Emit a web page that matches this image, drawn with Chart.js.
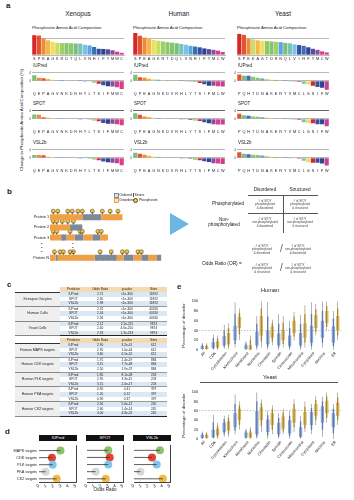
<!DOCTYPE html>
<html>
<head>
<meta charset="utf-8">
<title>Phosphosites and disorder</title>
<script src="https://cdn.jsdelivr.net/npm/chart.js@4.4.1/dist/chart.umd.min.js"></script>
<style>
  body { margin: 0; background: #fff; font-family: "Liberation Sans", Arial, sans-serif; color: #222; }
  #page { position: relative; width: 354px; height: 500px; overflow: hidden; }
  #page canvas { position: absolute; }
  .t { position: absolute; white-space: nowrap; line-height: 1; }
  .panel { font-weight: bold; font-size: 8px; }
  .c { transform: translateX(-50%); text-align: center; }
  .hline { position: absolute; height: 0; border-top: 0.6px solid #555; }
  .vline { position: absolute; width: 0; border-left: 0.6px solid #555; }
  .stats { position: absolute; left: 15px; width: 152px; border-collapse: collapse; table-layout: fixed; font-size: 3.2px; }
  .stats td { height: 4.6px; padding: 0; line-height: 4.6px; text-align: center; white-space: nowrap; overflow: hidden; }
  .stats tr.b td { background: #dce7f4; }
  .stats tr.last td { border-bottom: 0.6px solid #999; }
  .stats tr:last-child td { border-bottom: 0.9px solid #222; }
  .stats tr.hd td { background: #f3dab2; }
  .stats tr td.grp { width: 45px; background: #efefef; font-size: 3.6px; border-bottom: 0.6px solid #888; }
  .stats tr.hd td.grp { background: #fff; border-bottom: 0.6px solid #333; }
  .khead { position: absolute; background: #111; color: #fff; font-size: 4px; text-align: center; line-height: 6px; height: 6px; }
</style>
</head>
<body>
<div id="page"></div>
<script>
// ---------- panel a: amino acid composition ----------
const xenCompLabels = ['S','P','E','A','G','K','R','D','T','Q','L','V','N','H','I','F','Y','M','W','C'];
const xenComposition = [10.8, 10.6, 9.0, 8.0, 7.2, 6.6, 6.5, 6.5, 6.4, 6.3, 6.2, 5.6, 5.2, 4.4, 3.4, 3.3, 3.1, 2.6, 1.8, 1.2];
const humCompLabels = ['S','P','E','A','G','K','R','T','D','Q','L','V','N','H','I','F','Y','M','C','W'];
const humComposition = [12.0, 10.5, 9.5, 8.8, 8.2, 7.8, 7.4, 7.0, 6.7, 6.4, 6.0, 5.6, 5.0, 4.6, 4.2, 3.6, 3.2, 2.8, 2.4, 1.6];
const yeastCompLabels = ['S','P','E','K','A','G','T','D','R','N','Q','L','V','I','H','F','Y','M','C','W'];
const yeastComposition = [11.5, 11.0, 8.8, 8.5, 8.0, 7.8, 7.6, 7.4, 7.2, 7.0, 6.6, 6.4, 5.8, 5.4, 5.0, 4.2, 3.4, 2.8, 2.0, 1.4];

const xenChangeLabels = ['Q','E','P','A','G','V','N','K','D','R','H','Y','L','T','S','I','F','M','W','C'];
const xenIupred = [2.8, 1.6, 1.3, 0.9, 0.6, 0.5, 0.4, 0.35, 0.3, 0.25, 0.1, -0.1, -0.3, -0.9, -1.4, -2.2, -2.6, -2.8, -3.2, -4.0];
const xenSpot = [2.2, 2.0, 0.8, 0.6, 0.5, 0.4, 0.3, 0.25, 0.2, 0.1, -0.1, -0.2, -0.4, -0.8, -1.2, -2.0, -2.4, -2.4, -2.6, -3.2];
const xenVsl = [1.4, 1.4, 1.3, 0.6, 0.5, 0.4, 0.3, 0.2, 0.1, 0.05, -0.1, -0.2, -0.4, -0.8, -1.2, -1.8, -2.2, -2.4, -2.6, -3.6];

const humChangeLabels = ['Q','P','E','A','G','N','K','D','V','R','H','L','Y','T','S','I','F','M','C','W'];
const humIupred = [3.0, 1.8, 1.5, 1.1, 0.8, 0.6, 0.5, 0.4, 0.3, 0.2, 0.1, -0.1, -0.3, -0.6, -1.0, -1.6, -2.4, -2.4, -2.6, -2.8];
const humSpot = [2.8, 2.0, 1.2, 0.9, 0.6, 0.5, 0.4, 0.3, 0.2, 0.1, -0.1, -0.3, -0.5, -0.8, -1.0, -1.6, -2.2, -2.6, -2.8, -2.8];
const humVsl = [2.6, 2.0, 1.6, 1.0, 0.7, 0.5, 0.4, 0.3, 0.2, 0.1, -0.1, -0.3, -0.4, -0.9, -1.2, -1.6, -2.0, -2.6, -2.8, -3.0];

const yeastChangeLabels = ['P','Q','H','T','D','N','A','K','E','R','Y','V','M','C','L','G','S','I','F','W'];
const yeastIupred = [3.2, 2.6, 2.5, 2.0, 1.6, 1.2, 0.8, 0.6, 0.4, 0.3, 0.1, -0.1, -0.3, -0.6, -1.4, -1.8, -2.4, -3.0, -3.4, -4.4];
const yeastSpot = [2.6, 1.8, 1.6, 1.2, 1.0, 0.8, 0.6, 0.4, 0.3, 0.2, 0.1, -0.1, -0.3, -0.6, -1.6, -2.0, -2.2, -2.6, -2.6, -3.6];
const yeastVsl = [2.8, 2.0, 1.8, 1.6, 1.4, 1.2, 0.8, 0.6, 0.4, 0.3, 0.1, -0.1, -0.2, -0.4, -1.4, -2.2, -2.4, -2.4, -2.8, -3.8];

// ---------- panel b: schematic proteins ----------
const proteinNames = ['Protein 1', 'Protein 2', 'Protein 3', 'Protein N'];
const disorderedRegions = [
  [[0, 29], [46, 65]],
  [[0, 18]],
  [[0, 10], [15, 22], [30, 38], [45, 52]],
  [[0, 5], [7, 40], [60, 66], [75, 82], [88, 96]]
];
const orderedRegions = [
  [[29, 46]],
  [[18, 29]],
  [[10, 15], [22, 30], [38, 45]],
  [[5, 7], [40, 60], [66, 75], [82, 88], [96, 100]]
];
const serineSites = [
  [33, 36, 40, 44, 50, 58],
  [24, 27],
  [12, 20, 25, 33, 36, 40, 49],
  [2, 6, 25, 30, 34, 38, 42, 48, 52, 58, 62, 74, 86, 90, 93]
];
const phosphoSites = [
  [3, 7, 16, 20, 25, 29, 38, 47, 54, 61],
  [3, 6, 11, 16, 21],
  [3, 6, 18, 27, 29, 43, 46],
  [4, 9, 12, 18, 21, 45, 55, 65, 69, 79, 82]
];

// ---------- panel c: odds ratio tables ----------
const predictors = ['IUPred', 'SPOT', 'VSL2b'];
const tableColumns = ['Predictor', 'Odds Ratio', 'p-value', 'Sites'];
const cohortGroups = ['Xenopus Oocytes', 'Human Cells', 'Yeast Cells'];
const cohortOdds = [[2.71, 2.65, 2.98], [2.31, 2.44, 2.56], [2.12, 2.40, 2.33]];
const cohortP = [['<1e-300', '<1e-300', '<1e-300'], ['<1e-300', '<1e-300', '<1e-300'], ['2.1e-211', '4.6e-250', '1.3e-233']];
const cohortSites = [[11892, 11892, 11892], [40316, 40316, 40316], [9874, 9874, 9874]];
const kinaseGroups = ['Human MAPK targets', 'Human CDK targets', 'Human PLK targets', 'Human PKA targets', 'Human CK2 targets'];
const kinaseOdds = [[2.90, 2.95, 3.60], [1.75, 3.15, 2.50], [1.85, 2.95, 3.15], [0.90, 1.20, 0.90], [2.40, 2.60, 4.00]];
const kinaseP = [['3.2e-41', '1.0e-44', '6.5e-52'], ['2.4e-19', '7.7e-48', '1.9e-37'], ['8.1e-08', '3.3e-15', '2.0e-17'], ['0.41', '0.12', '0.37'], ['5.6e-12', '1.4e-14', '4.8e-22']];
const kinaseSites = [[612, 612, 612], [884, 884, 884], [203, 203, 203], [397, 397, 397], [245, 245, 245]];

// ---------- panel d: lollipops ----------
const kinaseLabels = ['MAPK targets', 'CDK targets', 'PLK targets', 'PKA targets', 'CK2 targets'];
const iupredOdds = [2.90, 1.75, 1.85, 0.90, 2.40];
const spotOdds = [2.95, 3.15, 2.95, 1.20, 2.60];
const vslOdds = [3.60, 2.50, 3.15, 0.90, 4.00];

// ---------- panel e: disorder distributions (min, q1, median, q3, max) ----------
const locationLabels = ['All', 'CDK', 'Cytoskeleton', 'Kinetochore', 'Membrane', 'Nucleolus', 'Chromatin', 'Spindle', 'Centrosome', 'Mitochondria', 'Cytoplasm', 'Nucleus', 'ER'];
const humanUnphos = [[0,2,5,8,15],[0,4,10,16,32],[2,10,20,28,52],[5,20,35,50,98],[0,2,6,10,18],[0,10,20,38,70],[0,12,22,40,98],[0,10,20,34,74],[0,8,18,30,60],[0,10,20,35,72],[0,15,30,50,98],[5,25,45,60,100],[0,15,30,48,80]];
const humanPhos = [[0,2,5,8,14],[0,5,12,18,30],[2,12,22,35,55],[20,45,58,68,85],[0,0,4,10,30],[5,30,50,70,100],[10,25,38,48,62],[5,20,30,42,70],[20,35,48,60,78],[5,25,40,55,92],[30,45,60,72,95],[40,55,68,80,100],[20,40,55,70,100]];
const yeastUnphos = [[0,2,5,9,16],[0,4,10,20,52],[5,15,25,35,50],[10,25,40,55,95],[0,3,8,14,22],[0,10,30,60,100],[0,15,28,42,60],[0,10,22,35,55],[0,12,25,40,60],[0,5,14,25,50],[10,30,45,58,75],[5,35,55,70,90],[0,25,40,55,75]];
const yeastPhos = [[0,2,5,9,15],[0,8,16,22,35],[5,18,28,38,52],[20,40,52,65,80],[0,3,8,14,25],[15,40,55,68,85],[10,30,42,55,72],[10,22,35,48,65],[15,35,50,65,85],[15,30,42,58,80],[30,50,62,75,92],[35,55,70,82,100],[30,50,65,78,100]];

// colours
const rainbow = ['#d6282b','#e4532c','#f08a3a','#f5b64a','#f1df5b','#c8dd63','#9fcf69','#86c66a','#8cc867','#7bbf7b','#79c3b4','#7cc2e2','#5aa5dd','#3f6cb4','#34529f','#2f4191','#5a4b9c','#8a4c9d','#c4428f','#e23b8a'];
const aaColor = {};
xenCompLabels.forEach((a, i) => { aaColor[a] = rainbow[i]; });
const kinaseColors = ['#8cc26b', '#e5432e', '#7fc6ee', '#d4d9de', '#f0b94a'];

Chart.defaults.font.family = '"Liberation Sans", Arial, sans-serif';
Chart.defaults.color = '#333';
Chart.defaults.animation = false;
Chart.defaults.responsive = false;
Chart.defaults.plugins.legend.display = false;
Chart.defaults.plugins.tooltip.enabled = false;

const page = document.getElementById('page');

function place(x, y, w, h) {
  const c = document.createElement('canvas');
  c.width = w; c.height = h;
  c.style.left = x + 'px'; c.style.top = y + 'px';
  page.appendChild(c);
  return c;
}

function txt(x, y, html, css, cls) {
  const d = document.createElement('div');
  d.className = 't' + (cls ? ' ' + cls : '');
  d.style.left = x + 'px'; d.style.top = y + 'px';
  if (css) d.style.cssText += css;
  d.innerHTML = html;
  page.appendChild(d);
  return d;
}

function line(cls, x, y, len) {
  const d = document.createElement('div');
  d.className = cls;
  d.style.left = x + 'px'; d.style.top = y + 'px';
  if (cls === 'hline') d.style.width = len + 'px'; else d.style.height = len + 'px';
  page.appendChild(d);
}

// ---------- panel a ----------
// note: drawTicks must be off, otherwise 8px of tick length pushes the labels out of the fixed-height axis box
function aaBarChart(x, y, h, labels, values, yOpts, xBorder) {
  return new Chart(place(x, y, 102, h), {
    type: 'bar',
    data: { labels: labels, datasets: [{ data: values, backgroundColor: labels.map(a => aaColor[a]), barPercentage: 1, categoryPercentage: 0.9 }] },
    options: {
      layout: { padding: { top: 1, right: 2 } },
      scales: {
        x: { grid: { display: false, drawTicks: false }, border: xBorder ? { color: '#777', width: 0.5 } : { display: false },
             ticks: { font: { size: 3.8 }, color: '#222', autoSkip: false, maxRotation: 0, padding: 1.5 },
             afterFit: s => { s.height = 7; } },
        y: yOpts
      }
    }
  });
}

function compositionChart(x, y, labels, values) {
  aaBarChart(x, y, 30, labels, values, {
    min: 0, max: 12, ticks: { display: false, stepSize: 3 },
    grid: { color: c => c.tick.value === 9 ? '#9a9a9a' : 'transparent', lineWidth: 0.7, drawTicks: false },
    border: { display: false }, afterFit: s => { s.width = 8; }
  }, true);
}

function changeChart(x, y, labels, values, dark) {
  aaBarChart(x, y, 27, labels, values, {
    min: -4.5, max: 4,
    ticks: { stepSize: 2, font: { size: 3 }, color: '#333', padding: 1, callback: v => (Number.isInteger(v) ? v : '') },
    grid: { color: c => {
              const v = c.tick.value;
              if (v === 4) return dark ? '#222' : '#999';
              if (v === 0) return '#999';
              if (dark && v === -2) return '#222';
              return 'transparent';
            }, lineWidth: 0.7, drawTicks: false },
    border: { display: false }, afterFit: s => { s.width = 8; }
  }, false);
}

txt(6, 2, 'a', '', 'panel');
const colLeft = [24, 125, 229];
const colTitles = ['Xenopus', 'Human', 'Yeast'];
const compData = [[xenCompLabels, xenComposition], [humCompLabels, humComposition], [yeastCompLabels, yeastComposition]];
const changeData = [
  [xenChangeLabels, xenIupred, xenSpot, xenVsl],
  [humChangeLabels, humIupred, humSpot, humVsl],
  [yeastChangeLabels, yeastIupred, yeastSpot, yeastVsl]
];
const rowTops = [70, 108, 147];
colLeft.forEach((x, i) => {
  txt(x + 54, 11, colTitles[i], 'font-size:6.5px', 'c');
  txt(x + 8, 26, 'Phosphosite Amino Acid Composition', 'font-size:4.2px');
  compositionChart(x, 32, compData[i][0], compData[i][1]);
  predictors.forEach((p, r) => {
    txt(x + 9, rowTops[r] - 6, p, 'font-size:4.5px');
    changeChart(x, rowTops[r], changeData[i][0], changeData[i][r + 1], r === 1);
  });
});
txt(22, 120, 'Change in Phosphosite Amino Acid Composition (%)', 'font-size:4.4px;transform:translate(-50%,-50%) rotate(-90deg);');

// ---------- panel b ----------
txt(7, 188, 'b', '', 'panel');
const rowOf = i => (i < 3 ? 4 - i : 0);

function segmentData(regions) {
  const pts = [];
  regions.forEach((segs, i) => segs.forEach(s => {
    pts.push({ x: s[0], y: rowOf(i) }, { x: s[1], y: rowOf(i) }, { x: s[1], y: null });
  }));
  return pts;
}
function stickData(sites, lo, hi) {
  const pts = [];
  sites.forEach((list, i) => list.forEach(p => {
    pts.push({ x: p, y: rowOf(i) + lo }, { x: p, y: rowOf(i) + hi }, { x: p, y: null });
  }));
  return pts;
}
const headPoints = [];
phosphoSites.forEach((list, i) => list.forEach(p => headPoints.push({ x: p, y: rowOf(i) + 0.6 })));

new Chart(place(30, 202, 136, 66), {
  type: 'scatter',
  data: { datasets: [
    { data: segmentData(disorderedRegions), showLine: true, spanGaps: false, borderColor: '#ef9f45', borderWidth: 6, pointRadius: 0, borderCapStyle: 'butt' },
    { data: segmentData(orderedRegions), showLine: true, spanGaps: false, borderColor: '#7d8898', borderWidth: 6, pointRadius: 0, borderCapStyle: 'butt' },
    { data: stickData(serineSites, -0.28, 0.28), showLine: true, spanGaps: false, borderColor: '#3f4d63', borderWidth: 0.8, pointRadius: 0 },
    { data: stickData(phosphoSites, 0.26, 0.5), showLine: true, spanGaps: false, borderColor: '#3f3a2a', borderWidth: 0.8, pointRadius: 0 },
    { data: headPoints, pointRadius: 2, pointBackgroundColor: '#f4c443', pointBorderColor: '#5a4a1c', pointBorderWidth: 0.6 }
  ] },
  options: {
    layout: { padding: { right: 4 } },
    scales: {
      x: { display: false, min: 0, max: 100 },
      y: { min: -0.55, max: 5.05, grid: { display: false, drawTicks: false }, border: { display: false },
           afterBuildTicks: s => { s.ticks = proteinNames.map((_, i) => ({ value: rowOf(i) })); },
           ticks: { font: { size: 3.8 }, color: '#222', padding: 1, callback: v => proteinNames[[4, 3, 2, 0].indexOf(v)] },
           afterFit: s => { s.width = 20; } }
    }
  }
});
txt(41, 241, '·<br>·<br>·', 'font-size:6px;line-height:4px;font-weight:bold');
txt(72, 241, '·<br>·<br>·', 'font-size:6px;line-height:4px;font-weight:bold');

// legend
txt(114, 193, '<span style="display:inline-block;width:2.5px;height:2.5px;border:0.5px solid #7d8898;background:#dfe3e8;vertical-align:middle"></span> Ordered', 'font-size:3.4px');
txt(114, 198, '<span style="display:inline-block;width:2.5px;height:2.5px;border:0.5px solid #ef9f45;background:#fbe3c4;vertical-align:middle"></span> Disordered', 'font-size:3.4px');
txt(133, 193, '<span style="display:inline-block;width:0.6px;height:3.5px;background:#3f4d63;vertical-align:middle"></span> Serine', 'font-size:3.4px');
txt(133, 198, '<span style="display:inline-block;width:3px;height:3px;border-radius:50%;background:#f4c443;border:0.4px solid #5a4a1c;vertical-align:middle"></span> Phosphosite', 'font-size:3.4px');

// arrow
const arrow = document.createElement('div');
arrow.style.cssText = 'position:absolute;left:170px;top:213px;width:0;height:0;border-top:11px solid transparent;border-bottom:11px solid transparent;border-left:19px solid #6cb6e4;';
page.appendChild(arrow);

// contingency table
txt(265, 188, 'Disordered', 'font-size:4.6px', 'c');
txt(300, 188, 'Structured', 'font-size:4.6px', 'c');
line('hline', 248, 195, 70);
line('hline', 248, 213, 70);
line('vline', 283, 195, 38);
txt(244, 202, 'Phosphorylated', 'font-size:4.6px;transform:translateX(-100%)');
txt(224, 217, 'Non-<br>phosphorylated', 'font-size:4.6px;line-height:5px', 'c');
const cellText = [
  ['# of S/T/Y<br>phosphorylated<br>&amp; disordered', '# of S/T/Y<br>phosphorylated<br>&amp; structured'],
  ['# of S/T/Y<br>non-phosphorylated<br>&amp; disordered', '# of S/T/Y<br>non-phosphorylated<br>&amp; structured']
];
[[265, 200], [300, 200], [265, 218], [300, 218]].forEach((p, k) => {
  txt(p[0], p[1], cellText[k >> 1][k & 1], 'font-size:2.9px;line-height:3.3px;color:#444', 'c');
});
txt(202, 262, 'Odds Ratio (OR) =', 'font-size:4.8px');
txt(262, 245, cellText[0][0], 'font-size:2.9px;line-height:3.3px;color:#444', 'c');
txt(280, 244, '/', 'font-size:10px;color:#666;font-weight:300');
txt(298, 245, cellText[1][0], 'font-size:2.9px;line-height:3.3px;color:#444', 'c');
txt(262, 264, cellText[0][1], 'font-size:2.9px;line-height:3.3px;color:#444', 'c');
txt(280, 263, '/', 'font-size:10px;color:#666;font-weight:300');
txt(298, 264, cellText[1][1], 'font-size:2.9px;line-height:3.3px;color:#444', 'c');

// ---------- panel c ----------
txt(7, 281, 'c', '', 'panel');
function buildTable(top, groups, odds, pvals, sites) {
  let html = '<tr class="hd"><td class="grp"></td>' + tableColumns.map(c => '<td>' + c + '</td>').join('') + '</tr>';
  let k = 0;
  groups.forEach((g, gi) => {
    predictors.forEach((p, pi) => {
      const cls = [(k++ % 2 === 0) ? 'b' : '', pi === 2 ? 'last' : ''].join(' ');
      html += '<tr class="' + cls + '">';
      if (pi === 0) html += '<td class="grp" rowspan="3">' + g + '</td>';
      html += '<td>' + p + '</td><td>' + odds[gi][pi].toFixed(2) + '</td><td>' + pvals[gi][pi] + '</td><td>' + sites[gi][pi] + '</td></tr>';
    });
  });
  const t = document.createElement('table');
  t.className = 'stats';
  t.style.top = top + 'px';
  t.innerHTML = html;
  page.appendChild(t);
}
buildTable(287, cohortGroups, cohortOdds, cohortP, cohortSites);
buildTable(338, kinaseGroups, kinaseOdds, kinaseP, kinaseSites);

// ---------- panel d ----------
txt(5, 428, 'd', '', 'panel');
function lollipopChart(x, yAxisWidth, values, showLabels, title) {
  const stems = [];
  values.forEach((v, i) => { stems.push({ x: 0, y: i }, { x: v, y: i }, { x: v, y: null }); });
  const w = yAxisWidth + 38 + 3;
  new Chart(place(x, 441, w, 50), {
    type: 'scatter',
    data: { datasets: [
      { data: stems, showLine: true, spanGaps: false, borderColor: '#333', borderWidth: 0.8, pointRadius: 0 },
      { data: values.map((v, i) => ({ x: v, y: i })), pointRadius: 4, pointBackgroundColor: kinaseColors, pointBorderWidth: 0 }
    ] },
    options: {
      layout: { padding: { right: 3 } },
      scales: {
        x: { min: 0, max: 5, ticks: { stepSize: 1, font: { size: 4.6 }, color: '#222', padding: 1 },
             grid: { color: c => c.tick.value === 5 ? '#111' : 'transparent', lineWidth: 0.8, drawTicks: false },
             border: { color: '#111', width: 0.8 }, afterFit: s => { s.height = 9; } },
        y: { min: -0.75, max: 4.45, reverse: true, grid: { display: false, drawTicks: false }, border: { display: false },
             afterBuildTicks: s => { s.ticks = kinaseLabels.map((_, i) => ({ value: i })); },
             ticks: { display: showLabels, font: { size: 3.8 }, color: '#222', padding: 2, callback: v => kinaseLabels[v] },
             afterFit: s => { s.width = yAxisWidth; } }
      }
    }
  });
  const h = document.createElement('div');
  h.className = 'khead';
  h.style.left = (x + yAxisWidth) + 'px'; h.style.top = '435px'; h.style.width = '38px';
  h.textContent = title;
  page.appendChild(h);
}
lollipopChart(0, 39, iupredOdds, true, 'IUPred');
lollipopChart(83, 3, spotOdds, false, 'SPOT');
lollipopChart(130, 3, vslOdds, false, 'VSL2b');
txt(105, 488, 'Odds Ratio', 'font-size:4.6px', 'c');

// ---------- panel e ----------
txt(177, 283, 'e', '', 'panel');
function violinChart(y, h, labels, unphos, phos, refLine) {
  const datasets = [];
  [[unphos, 'u', '#89a5da', '#1c2748'], [phos, 'p', '#d8b458', '#3a3217']].forEach(([stats, key, fill, dark]) => {
    datasets.push({ stack: key, data: stats.map(s => [s[0], s[4]]), backgroundColor: dark, barPercentage: 0.08 });
    datasets.push({ stack: key, data: stats.map(s => [(s[0] + s[1]) / 2, (s[3] + s[4]) / 2]), backgroundColor: fill, barPercentage: 0.35 });
    datasets.push({ stack: key, data: stats.map(s => [s[1], s[3]]), backgroundColor: fill, barPercentage: 0.75 });
    datasets.push({ stack: key, data: stats.map(s => [s[2] - 1.3, s[2] + 1.3]), backgroundColor: '#ffffff', barPercentage: 0.28 });
  });
  new Chart(place(181, y, 162, h), {
    type: 'bar',
    data: { labels: labels, datasets: datasets },
    options: {
      layout: { padding: { top: 2, right: 2 } },
      datasets: { bar: { categoryPercentage: 0.8 } },
      scales: {
        x: { grid: { display: false, drawTicks: false }, border: { display: false },
             ticks: { font: { size: 3.9 }, color: '#222', autoSkip: false, minRotation: 50, maxRotation: 50, padding: 1 },
             afterFit: s => { s.height = 20; } },
        y: { min: 0, max: 100, stacked: false,
             ticks: { stepSize: 20, font: { size: 3.8 }, color: '#222', padding: 1 },
             grid: { color: c => c.tick.value === refLine ? '#9a9a9a' : 'transparent', lineWidth: 0.6, drawTicks: false },
             border: { display: false, dash: [1.5, 1.5] },
             title: { display: true, text: 'Percentage of disorder', font: { size: 4.4 }, padding: 0 },
             afterFit: s => { s.width = 18; } }
      }
    }
  });
}
txt(270, 288, 'Human', 'font-size:5.6px', 'c');
violinChart(298, 72, locationLabels, humanUnphos, humanPhos, 40);
txt(270, 375, 'Yeast', 'font-size:5.6px', 'c');
line('hline', 200, 382, 138);
violinChart(389, 70, locationLabels, yeastUnphos, yeastPhos, 60);
</script>
</body>
</html>
